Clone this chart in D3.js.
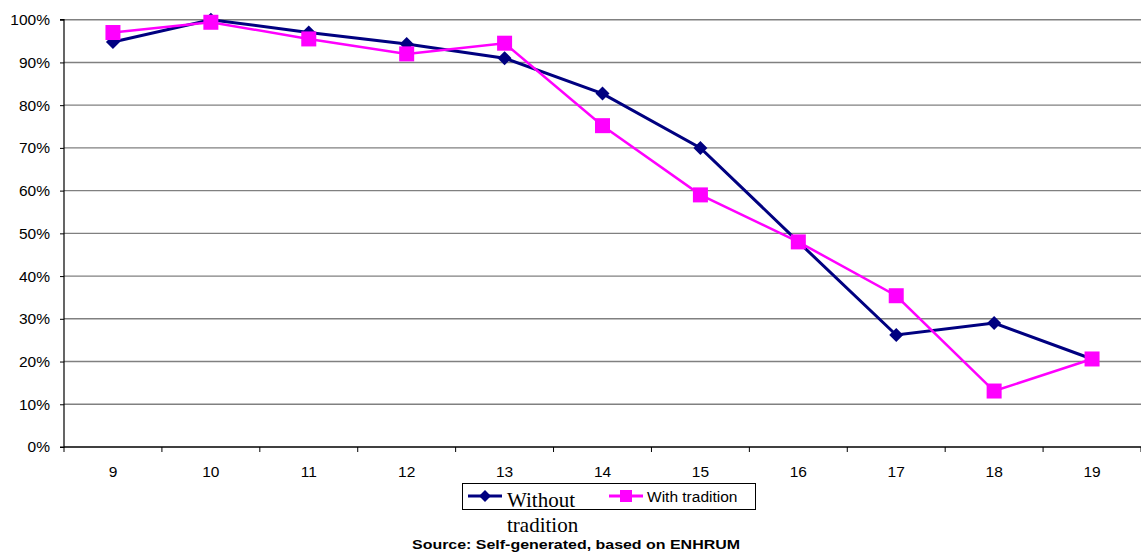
<!DOCTYPE html>
<html>
<head>
<meta charset="utf-8">
<script src="https://cdn.jsdelivr.net/npm/d3@7/dist/d3.min.js"></script>
<style>
  html, body { margin: 0; padding: 0; background: #fff; }
  svg { display: block; }
</style>
</head>
<body>
<svg id="chart" width="1141" height="555"></svg>
<script>
// Ages on the x axis
const ages = ["9", "10", "11", "12", "13", "14", "15", "16", "17", "18", "19"];
// Share (%) per age for each group
const withoutTradition = [94.8, 100, 97.0, 94.3, 91.0, 82.7, 70.0, 48.0, 26.2, 29.0, 20.6];
const withTradition    = [97.0, 99.4, 95.5, 92.0, 94.5, 75.2, 59.0, 48.0, 35.4, 13.1, 20.6];
const yTicks = [0, 10, 20, 30, 40, 50, 60, 70, 80, 90, 100];

const svg = d3.select("#chart");
const plotLeft = 64, plotRight = 1141, plotTop = 19.7, plotBottom = 447;
const sans = "Liberation Sans, Arial, sans-serif";

const x = d3.scaleBand().domain(ages).range([plotLeft, plotRight]);
const y = d3.scaleLinear().domain([0, 100]).range([plotBottom, plotTop]);
const cx = d => x(d) + x.bandwidth() / 2;

// Horizontal gridlines
svg.append("g").selectAll("line").data(yTicks.filter(t => t > 0)).join("line")
  .attr("x1", plotLeft).attr("x2", plotRight)
  .attr("y1", d => y(d)).attr("y2", d => y(d))
  .attr("stroke", "#808080").attr("stroke-width", 1.4);

// Y axis
const yAxis = svg.append("g").attr("transform", `translate(${plotLeft},0)`)
  .call(d3.axisLeft(y).tickValues(yTicks).tickSize(4).tickPadding(10).tickFormat(d => d + "%"));
yAxis.attr("font-size", null).attr("font-family", null);
yAxis.select(".domain").attr("stroke", "#000").attr("stroke-width", 1.2).attr("d", `M-4,${plotTop}H0V${plotBottom}H-4`);
yAxis.selectAll(".tick line").attr("stroke", "#000");
yAxis.selectAll("text").style("font-family", sans).style("font-size", "15.5px").attr("fill", "#000");

// X axis with ticks at category boundaries
const xAxis = svg.append("g").attr("transform", `translate(0,${plotBottom})`)
  .call(d3.axisBottom(x).tickSize(0).tickPadding(19));
xAxis.attr("font-size", null).attr("font-family", null);
xAxis.select(".domain").attr("stroke", "#000").attr("stroke-width", 1.4).attr("d", `M${plotLeft},0H${plotRight}`);
xAxis.selectAll("text").style("font-family", sans).style("font-size", "15.5px").attr("fill", "#000");
const bounds = ages.map(a => x(a)).concat([plotRight]);
xAxis.append("g").selectAll("line").data(bounds).join("line")
  .attr("x1", d => d).attr("x2", d => d).attr("y1", 0).attr("y2", 5)
  .attr("stroke", "#000").attr("stroke-width", 1);

const line = d3.line().x((d, i) => cx(ages[i])).y(d => y(d));

const navy = "#000080", magenta = "#FF00FF";

// Without tradition series
svg.append("path").datum(withoutTradition)
  .attr("d", line).attr("fill", "none").attr("stroke", navy).attr("stroke-width", 3);
svg.append("g").selectAll("path").data(withoutTradition).join("path")
  .attr("d", d3.symbol().type(d3.symbolDiamond2).size(125))
  .attr("transform", (d, i) => `translate(${cx(ages[i])},${y(d)})`)
  .attr("fill", navy);

// With tradition series
svg.append("path").datum(withTradition)
  .attr("d", line).attr("fill", "none").attr("stroke", magenta).attr("stroke-width", 2.5);
svg.append("g").selectAll("rect").data(withTradition).join("rect")
  .attr("x", (d, i) => cx(ages[i]) - 7.5).attr("y", d => y(d) - 7.5)
  .attr("width", 15).attr("height", 15).attr("fill", magenta);

// Legend
const lg = svg.append("g");
lg.append("rect").attr("x", 462.5).attr("y", 483.5).attr("width", 293).attr("height", 26)
  .attr("fill", "#fff").attr("stroke", "#000").attr("stroke-width", 1);
lg.append("line").attr("x1", 468).attr("x2", 502).attr("y1", 496).attr("y2", 496)
  .attr("stroke", navy).attr("stroke-width", 3);
lg.append("path").attr("d", d3.symbol().type(d3.symbolDiamond2).size(90))
  .attr("transform", "translate(485,496)").attr("fill", navy);
const t1 = lg.append("text").style("font-family", "Liberation Serif, Times New Roman, serif")
  .style("font-size", "21px").attr("fill", "#000");
t1.append("tspan").attr("x", 507).attr("y", 507).text("Without");
t1.append("tspan").attr("x", 507).attr("y", 531.5).text("tradition");
lg.append("line").attr("x1", 609).attr("x2", 643).attr("y1", 496).attr("y2", 496)
  .attr("stroke", magenta).attr("stroke-width", 3);
lg.append("rect").attr("x", 620).attr("y", 490).attr("width", 12).attr("height", 12).attr("fill", magenta);
lg.append("text").attr("x", 647).attr("y", 501.5).style("font-family", sans)
  .style("font-size", "15.5px").attr("fill", "#000").text("With tradition");

// Source note (wide-set bold line)
svg.append("text").attr("x", 412).attr("y", 548.5)
  .attr("textLength", 328).attr("lengthAdjust", "spacingAndGlyphs")
  .style("font-family", sans).style("font-weight", "bold")
  .style("font-size", "13px").attr("fill", "#000").text("Source: Self-generated, based on ENHRUM");
</script>
</body>
</html>
